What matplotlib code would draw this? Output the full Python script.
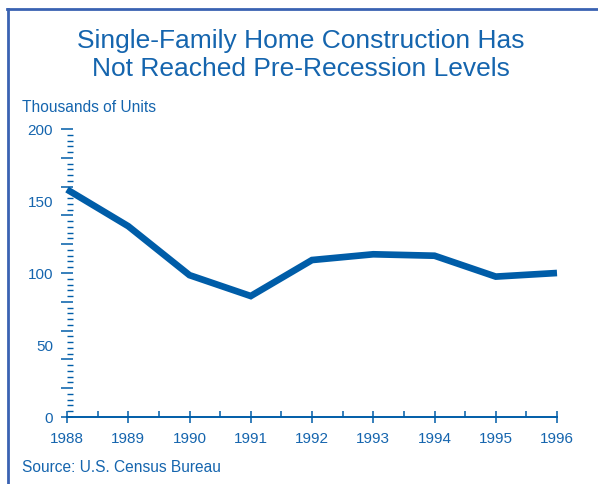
import matplotlib
matplotlib.use("Agg")
import matplotlib.pyplot as plt
from matplotlib.ticker import MultipleLocator, NullFormatter
from matplotlib.lines import Line2D

# Datos (miles de unidades)
years = [1988, 1989, 1990, 1991, 1992, 1993, 1994, 1995, 1996]
units = [158, 132.5, 98.5, 84, 109, 113, 112, 97.5, 100]
ytick_vals = [0, 50, 100, 150, 200]

line_color = "#005DA8"
text_color = "#1565AE"
frame_color = "#3A62B2"

plt.rcParams["font.family"] = ["Liberation Sans", "DejaVu Sans"]

W, H = 598, 485
fig = plt.figure(figsize=(W / 100, H / 100), dpi=100)

ax = fig.add_axes([67 / W, (H - 418) / H, (557 - 67) / W, (418 - 130) / H])
ax.plot(years, units, color=line_color, lw=4.8, solid_capstyle="butt",
        solid_joinstyle="miter", clip_on=False, zorder=3)
ax.set_xlim(1988, 1996)
ax.set_ylim(0, 200)

for s in ["top", "right", "left"]:
    ax.spines[s].set_visible(False)
ax.spines["bottom"].set_color(line_color)
ax.spines["bottom"].set_linewidth(1.4)

# eje x
ax.set_xticks(years)
ax.xaxis.set_minor_locator(MultipleLocator(0.5))
ax.tick_params(axis="x", which="major", direction="inout", length=8, width=1.1,
               color=line_color, labelcolor=text_color, labelsize=11, pad=6)
ax.tick_params(axis="x", which="minor", direction="in", length=4, width=1.1,
               color=line_color)

# eje y: etiquetas
ax.set_yticks(ytick_vals)
ax.tick_params(axis="y", which="major", length=0, pad=10,
               labelcolor=text_color, labelsize=11)

# eje y: marcas
sec = ax.secondary_yaxis("left")
sec.spines["left"].set_visible(False)
sec.yaxis.set_major_locator(MultipleLocator(20))
sec.yaxis.set_minor_locator(MultipleLocator(4))
sec.yaxis.set_major_formatter(NullFormatter())
sec.tick_params(axis="y", which="major", direction="inout", length=9, width=1.1,
                color=line_color)
sec.tick_params(axis="y", which="minor", direction="in", length=4, width=1.0,
                color=line_color)

# textos
fig.text(301 / W, 1 - 55 / H, "Single-Family Home Construction Has\nNot Reached Pre-Recession Levels",
         ha="center", va="center", fontsize=19, color=text_color, linespacing=1.25)
fig.text(22 / W, 1 - 107 / H, "Thousands of Units", ha="left", va="center",
         fontsize=11.2, color=text_color)
fig.text(22 / W, 1 - 468 / H, "Source: U.S. Census Bureau", ha="left", va="center",
         fontsize=11.2, color=text_color)

# marco
fig.add_artist(Line2D([7 / W, 1], [1 - 10 / H, 1 - 10 / H], color=frame_color, lw=2,
                      transform=fig.transFigure))
fig.add_artist(Line2D([8 / W, 8 / W], [1 - 10 / H, 0], color=frame_color, lw=2,
                      transform=fig.transFigure))

fig.savefig("out.png", dpi=100)
